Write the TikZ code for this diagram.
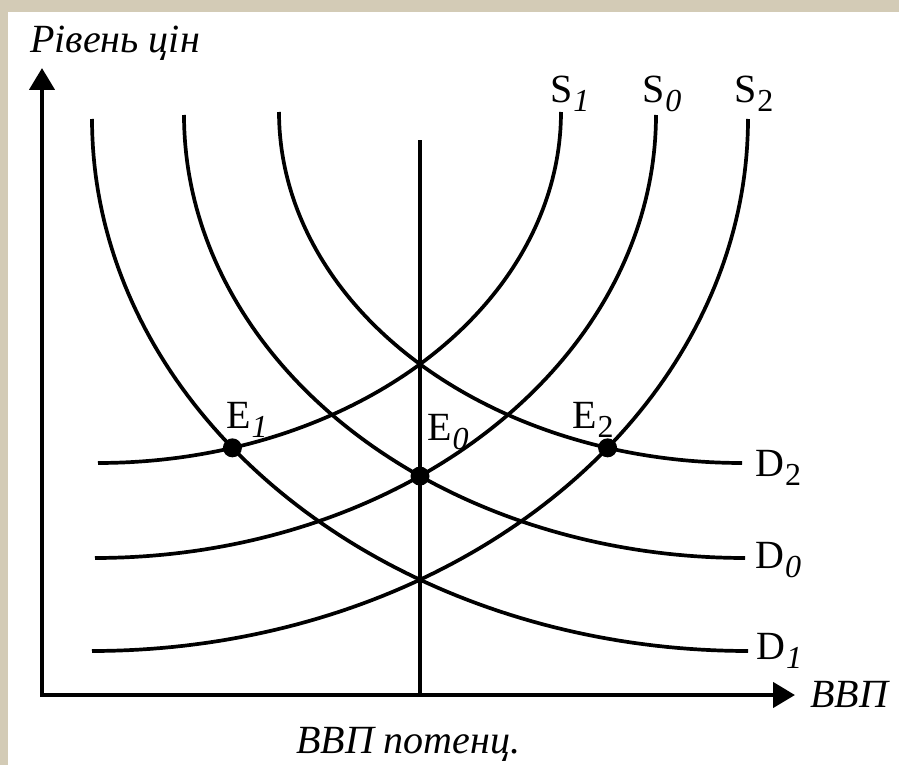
\documentclass[tikz,border=0pt]{standalone}
\usepackage{fontspec}
\setmainfont{Liberation Serif}
\usetikzlibrary{arrows.meta,intersections}
\definecolor{framebg}{RGB}{211,203,182}
\newcommand{\subsc}[1]{\hspace{1pt}\raisebox{-9pt}{\fontsize{32}{32}\selectfont #1}}
\tikzset{
  curve/.style={line width=3.7pt},
  axisline/.style={line width=4.4pt, line join=miter,
    arrows={Triangle[length=22pt,width=25pt]-Triangle[length=22pt,width=25pt]}},
  potline/.style={line width=3.2pt},
  lbl/.style={inner sep=0pt, anchor=base west, font=\fontsize{40}{40}\selectfont},
  ilbl/.style={lbl, font=\fontsize{40}{40}\selectfont\itshape},
  eqdot/.style={fill, circle, inner sep=0pt, minimum size=19pt}
}
\begin{document}
\begin{tikzpicture}[x=1pt,y=-1pt]
\useasboundingbox (0,0) rectangle (899,765);
\fill[framebg] (0,0) rectangle (899,765);
\fill[white] (8,12) rectangle (899,765);

% axes
\coordinate (O) at (42,695);
\coordinate (ytip) at (42,68);
\coordinate (xtip) at (795,695);
\draw[axisline] (ytip) -- (O) -- (xtip);

% potential GDP line
\coordinate (ptop) at (420,140);
\coordinate (pbot) at (420,695);
\draw[potline] (ptop) -- (pbot);

% demand curves (quarter ellipses)
\draw[curve, name path=D1] plot[domain=180:90, samples=90, variable=\t] ({748+656*cos(\t)}, {119+532*sin(\t)});
\draw[curve, name path=D0] plot[domain=180:90, samples=90, variable=\t] ({745+561*cos(\t)}, {115+443*sin(\t)});
\draw[curve, name path=D2] plot[domain=180:90, samples=90, variable=\t] ({742+463*cos(\t)}, {112+351*sin(\t)});
% supply curves (mirror images about x=420)
\draw[curve, name path=S2] plot[domain=180:90, samples=90, variable=\t] ({92-656*cos(\t)}, {119+532*sin(\t)});
\draw[curve, name path=S0] plot[domain=180:90, samples=90, variable=\t] ({95-561*cos(\t)}, {115+443*sin(\t)});
\draw[curve, name path=S1] plot[domain=180:90, samples=90, variable=\t] ({98-463*cos(\t)}, {112+351*sin(\t)});

% equilibria
\path[name intersections={of=D1 and S1, by=E1pt}];
\path[name intersections={of=D0 and S0, by=E0pt}];
\path[name intersections={of=D2 and S2, by=E2pt}];
\node[eqdot] (E1) at (E1pt) {};
\node[eqdot] (E0) at (E0pt) {};
\node[eqdot] (E2) at (E2pt) {};

% labels
\node[ilbl] (ylab) at (30,53) {Рівень цін};
\node[ilbl] (xlab) at (810,707) {ВВП};
\node[ilbl] (potlab) at (296,753) {ВВП потенц.};

\node[lbl] (S1lab) at (550,103) {S\subsc{\itshape 1}};
\node[lbl] (S0lab) at (642,103) {S\subsc{\itshape 0}};
\node[lbl] (S2lab) at (734,103) {S\subsc{2}};

\node[lbl] (D2lab) at (755,476) {D\subsc{2}};
\node[lbl] (D0lab) at (755,568) {D\subsc{\itshape 0}};
\node[lbl] (D1lab) at (756,659) {D\subsc{\itshape 1}};

\node[lbl] (E1lab) at (226,428) {E\subsc{\itshape 1}};
\node[lbl] (E0lab) at (427,440) {E\subsc{\itshape 0}};
\node[lbl] (E2lab) at (572,428) {E\subsc{2}};
\end{tikzpicture}
\end{document}
